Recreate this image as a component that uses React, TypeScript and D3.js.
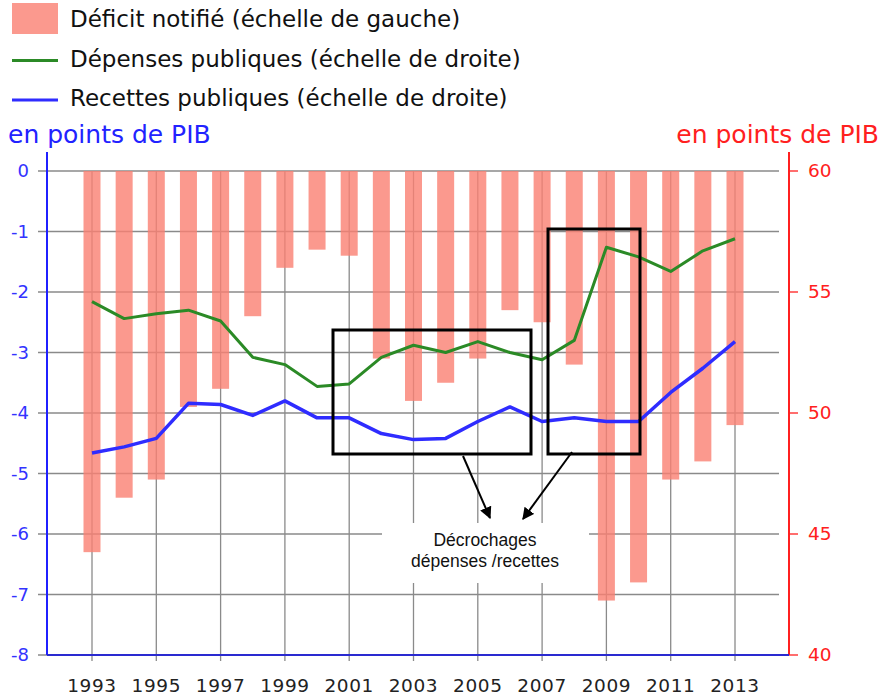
import React from "react";
import * as d3 from "d3";

// data
const years = [1993, 1994, 1995, 1996, 1997, 1998, 1999, 2000, 2001, 2002, 2003,
  2004, 2005, 2006, 2007, 2008, 2009, 2010, 2011, 2012, 2013];
const deficit = [-6.3, -5.4, -5.1, -3.9, -3.6, -2.4, -1.6, -1.3, -1.4, -3.1, -3.8,
  -3.5, -3.1, -2.3, -2.5, -3.2, -7.1, -6.8, -5.1, -4.8, -4.2];
const depenses = [54.6, 53.9, 54.1, 54.25, 53.8, 52.3, 52.0, 51.1, 51.2, 52.3, 52.8,
  52.5, 52.95, 52.5, 52.2, 53.0, 56.85, 56.45, 55.85, 56.7, 57.2];
const recettes = [48.35, 48.6, 48.95, 50.4, 50.35, 49.9, 50.5, 49.8, 49.8, 49.15, 48.9,
  48.95, 49.65, 50.25, 49.65, 49.8, 49.65, 49.65, 50.85, 51.85, 52.95];
const leftTicks = [0, -1, -2, -3, -4, -5, -6, -7, -8];
const rightTicks = [60, 55, 50, 45, 40];
const xTickYears = [1993, 1995, 1997, 1999, 2001, 2003, 2005, 2007, 2009, 2011, 2013];
const legendItems = [
  { label: "Déficit notifié (échelle de gauche)", kind: "bar" },
  { label: "Dépenses publiques (échelle de droite)", kind: "green" },
  { label: "Recettes publiques (échelle de droite)", kind: "blue" },
];

const W = 886;
const H = 697;
const FONT = "'DejaVu Sans', Verdana, sans-serif";
const GREEN = "#2b8a26";
const BLUE = "#2f2cff";
const BAR = "#fa8072";

export default function App() {
  const x = d3.scaleLinear().domain([1993, 2013]).range([92, 735]);
  const yL = d3.scaleLinear().domain([-8, 0]).range([655, 171]);
  const yR = d3.scaleLinear().domain([40, 60]).range([655, 171]);
  const gridLeft = 38;
  const gridRight = 779;
  const axisL = 47;
  const axisR = 789;
  const barW = 17;

  const lineGen = (vals: number[]) =>
    d3.line<number>().x((_, i) => x(years[i])).y((v) => yR(v))(vals) || "";

  return (
    <svg width={W} height={H} style={{ position: "absolute", left: 0, top: 0, background: "#fff" }}
      fontFamily={FONT}>
      {/* legend */}
      {legendItems.map((d, i) => (
        <g key={d.label} transform={`translate(0,${i * 39.5})`}>
          {d.kind === "bar" ? (
            <rect x={12} y={3} width={46} height={31} fill={BAR} opacity={0.8} />
          ) : (
            <line x1={12} x2={58} y1={21} y2={21} stroke={d.kind === "green" ? GREEN : BLUE} strokeWidth={3} />
          )}
          <text x={70} y={27} fontSize={23} fill="#111">{d.label}</text>
        </g>
      ))}

      <text x={8} y={143} fontSize={25} fill="#2222ff">en points de PIB</text>
      <text x={879} y={143} fontSize={25} fill="#ff2020" textAnchor="end">en points de PIB</text>

      {/* grid */}
      {leftTicks.map((t) => (
        <line key={"h" + t} x1={gridLeft} x2={gridRight} y1={yL(t)} y2={yL(t)} stroke="#8a8a8a" strokeWidth={1.3} />
      ))}
      {xTickYears.map((yr) => (
        <line key={"v" + yr} x1={x(yr)} x2={x(yr)} y1={yL(0)} y2={yL(-8) + 6} stroke="#8a8a8a" strokeWidth={1.3} />
      ))}

      {/* bars */}
      {deficit.map((v, i) => (
        <rect key={"b" + i} x={x(years[i]) - barW / 2} y={yL(0)} width={barW} height={yL(v) - yL(0)}
          fill={BAR} opacity={0.8} />
      ))}

      {/* axes */}
      <line x1={axisL} x2={axisL} y1={152} y2={yL(-8)} stroke="#2020ff" strokeWidth={2} />
      <line x1={axisR} x2={axisR} y1={152} y2={yL(-8)} stroke="#ff2020" strokeWidth={2} />
      <line x1={axisL} x2={axisR} y1={yL(-8)} y2={yL(-8)} stroke="#2a2ad0" strokeWidth={2} />
      {leftTicks.map((t) => (
        <text key={"lt" + t} x={29} y={yL(t) + 6} fontSize={18} fill="#3333ff" textAnchor="end">{t}</text>
      ))}
      {rightTicks.map((t) => (
        <g key={"rt" + t}>
          <line x1={axisR} x2={axisR + 9} y1={yR(t)} y2={yR(t)} stroke="#ff2020" strokeWidth={1.3} />
          <text x={808} y={yR(t) + 6} fontSize={18.5} fill="#ff2020">{t}</text>
        </g>
      ))}
      {xTickYears.map((yr) => (
        <text key={"xt" + yr} x={x(yr)} y={692} fontSize={18.5} fill="#222" textAnchor="middle"
          letterSpacing={0.6}>{yr}</text>
      ))}

      {/* series */}
      <path d={lineGen(depenses)} fill="none" stroke={GREEN} strokeWidth={3} strokeLinejoin="round" />
      <path d={lineGen(recettes)} fill="none" stroke={BLUE} strokeWidth={3.5} strokeLinejoin="round" />

      {/* annotation */}
      <defs>
        <marker id="arr" viewBox="0 0 10 10" refX={9} refY={5} markerWidth={6} markerHeight={6} orient="auto">
          <path d="M0,0 L10,5 L0,10 z" fill="#000" />
        </marker>
      </defs>
      <rect x={333} y={330} width={198} height={124} fill="none" stroke="#000" strokeWidth={3} />
      <rect x={548} y={229} width={92} height={225} fill="none" stroke="#000" strokeWidth={3} />
      <rect x={382} y={523} width={207} height={60} fill="#fff" />
      <line x1={463} y1={456} x2={490} y2={518} stroke="#000" strokeWidth={2} markerEnd="url(#arr)" />
      <line x1={572} y1={452} x2={523} y2={519} stroke="#000" strokeWidth={2} markerEnd="url(#arr)" />
      <text x={485} y={546} fontSize={17.5} fontFamily="'Liberation Sans', Arial, sans-serif" textAnchor="middle" fill="#111">Décrochages</text>
      <text x={485} y={567} fontSize={17.5} fontFamily="'Liberation Sans', Arial, sans-serif" textAnchor="middle" fill="#111">dépenses /recettes</text>
    </svg>
  );
}
